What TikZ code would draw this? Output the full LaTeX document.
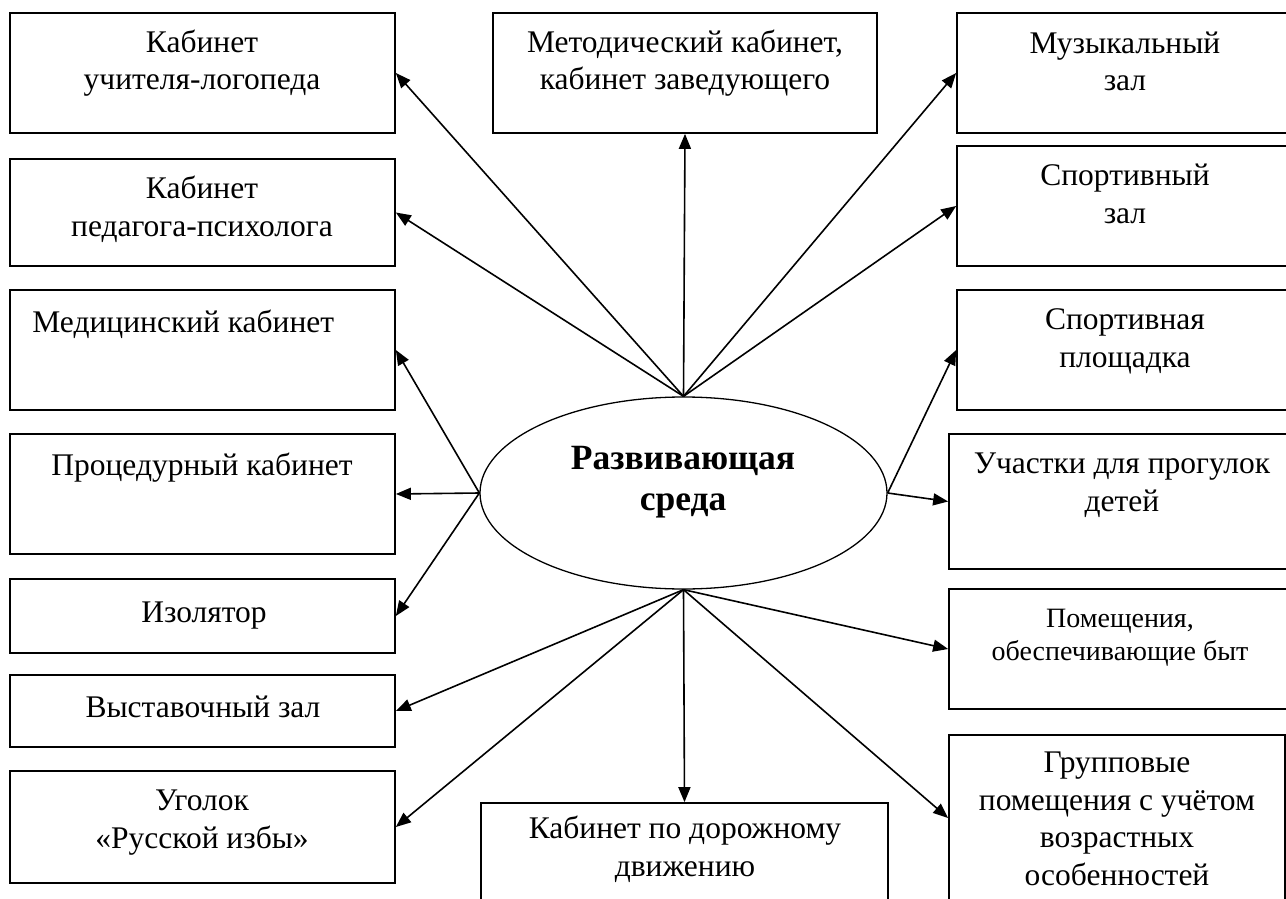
\documentclass[tikz,border=0pt]{standalone}
\usepackage{fontspec}
\setmainfont{Liberation Serif}
\usetikzlibrary{arrows.meta,shapes.geometric}
\begin{document}
\begin{tikzpicture}[x=0.5pt,y=-0.5pt,
  boxst/.style={draw, line width=0.85pt, inner sep=0pt, rectangle},
  txt/.style={inner sep=0pt, align=center, anchor=base, font=\fontsize{15.75}{18.75}\selectfont},
  txtsm/.style={inner sep=0pt, align=center, anchor=base, font=\fontsize{14}{16.5}\selectfont},
  ctxt/.style={inner sep=0pt, align=center, anchor=base, font=\fontsize{17.75}{20.5}\selectfont\bfseries},
  arr/.style={line width=0.8pt, -{Triangle[length=7.5pt,width=6pt]}},
]
\useasboundingbox (0,0) rectangle (1286,899);

% centre
\node[draw, ellipse, line width=0.65pt, inner sep=0pt, minimum width=203.5pt, minimum height=96pt] (e) at (683.5,493) {};
\node[ctxt] (et) at (683,510) {Развивающая\\среда};

% left column
\node[boxst, minimum width=192.5pt, minimum height=60pt] (b1) at (202.5,73) {};
\node[boxst, minimum width=192.5pt, minimum height=53.5pt] (b2) at (202.5,212.5) {};
\node[boxst, minimum width=192.5pt, minimum height=60pt] (b3) at (202.5,350) {};
\node[boxst, minimum width=192.5pt, minimum height=60pt] (b4) at (202.5,494) {};
\node[boxst, minimum width=192.5pt, minimum height=37pt] (b5) at (202.5,616) {};
\node[boxst, minimum width=192.5pt, minimum height=36pt] (b6) at (202.5,711) {};
\node[boxst, minimum width=192.5pt, minimum height=56pt] (b7) at (202.5,827) {};

\node[txt] (t1) at (202,90) {Кабинет\\учителя-логопеда};
\node[txt] (t2) at (202,236) {Кабинет\\педагога-психолога};
\node[txt, anchor=base west] (t3) at (32,332) {Медицинский кабинет};
\node[txt] (t4) at (202,475) {Процедурный кабинет};
\node[txt] (t5) at (204,622) {Изолятор};
\node[txt] (t6) at (203,717) {Выставочный зал};
\node[txt] (t7) at (202,848) {Уголок\\«Русской избы»};

% middle column
\node[boxst, minimum width=192pt, minimum height=60pt] (meth) at (685,73) {};
\node[txt] (tmeth) at (685,90) {Методический кабинет,\\кабинет заведующего};
\node[boxst, minimum width=203.5pt, minimum height=51pt] (road) at (684.5,854) {};
\node[txt] (troad) at (685,876) {Кабинет по дорожному\\движению};

% right column
\node[boxst, minimum width=169.5pt, minimum height=60pt] (mus) at (1126.5,73) {};
\node[boxst, minimum width=169.5pt, minimum height=60pt] (shall) at (1126.5,206) {};
\node[boxst, minimum width=169.5pt, minimum height=60pt] (ground) at (1126.5,350) {};
\node[boxst, minimum width=173.5pt, minimum height=67.5pt] (uch) at (1122.5,501.5) {};
\node[boxst, minimum width=173.5pt, minimum height=60pt] (pom) at (1122.5,649) {};
\node[boxst, minimum width=168pt, minimum height=83pt] (grp) at (1117,818) {};

\node[txt] (tmus) at (1125,91) {Музыкальный\\зал};
\node[txt] (tshall) at (1125,223) {Спортивный\\зал};
\node[txt] (tground) at (1125,367) {Спортивная\\площадка};
\node[txt] (tuch) at (1122,511) {Участки для прогулок\\детей};
\node[txtsm] (tpom) at (1120,660) {Помещения,\\обеспечивающие быт};
\node[txt] (tgrp) at (1117,885) {Групповые\\помещения с учётом\\возрастных\\особенностей};

% connectors
\draw[arr] (e.north) -- (b1.east);
\draw[arr] (e.north) -- (b2.east);
\draw[arr] (e.north) -- (meth.south);
\draw[arr] (e.north) -- (mus.west);
\draw[arr] (e.north) -- (shall.west);
\draw[arr] (e.west) -- (b3.east);
\draw[arr] (e.west) -- (b4.east);
\draw[arr] (e.west) -- (b5.east);
\draw[arr] (e.east) -- (ground.west);
\draw[arr] (e.east) -- (uch.west);
\draw[arr] (e.south) -- (b6.east);
\draw[arr] (e.south) -- (b7.east);
\draw[arr] (e.south) -- (road.north);
\draw[arr] (e.south) -- (pom.west);
\draw[arr] (e.south) -- (grp.west);
\end{tikzpicture}
\end{document}
